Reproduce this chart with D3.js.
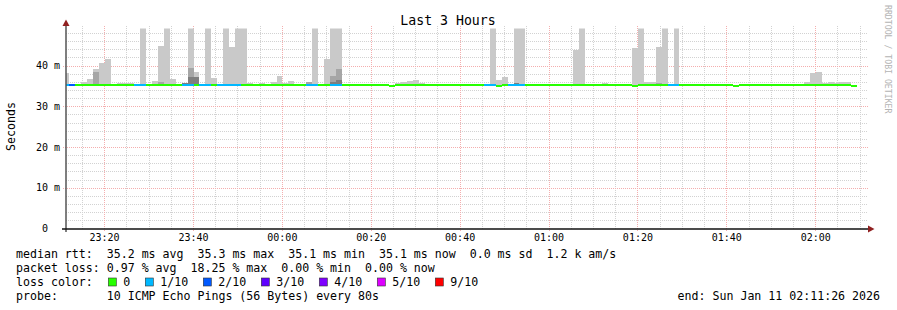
<!DOCTYPE html>
<html lang="en">
<head>
<meta charset="UTF-8">
<script src="https://d3js.org/d3.v7.min.js"></script>
<title>Last 3 Hours</title>
<style>
    body { margin: 0; background: #fff; }
    text { font-family: "DejaVu Sans Mono", monospace; }
</style>
</head>
<body>
<div id="chart"></div>
<script>
    /*------------------- data ---------------------------------------*/
    const startTime = new Date(2026, 0, 10, 23, 11, 26);
    const endTime = new Date(2026, 0, 11, 2, 11, 26);
    const firstStep = new Date(2026, 0, 10, 23, 10, 48);   // rrd step boundary
    const stepSeconds = 80;

    // median rtt per step (ms)
    const median = [
        35.2, 35.2, 35.2, 35.2, 35.2, 35.2, 35.2, 35.2, 35.2, 35.2,
        35.2, 35.2, 35.2, 35.2, 35.2, 35.2, 35.2, 35.2, 35.2, 35.2,
        35.2, 35.2, 35.2, 35.2, 35.2, 35.2, 35.2, 35.2, 35.2, 35.2,
        35.2, 35.2, 35.2, 35.2, 35.2, 35.2, 35.2, 35.2, 35.2, 35.2,
        35.2, 35.2, 35.2, 35.2, 35.2, 35.2, 35.2, 35.2, 35.2, 35.2,
        35.2, 35.2, 35.2, 35.2, 35.2, 34.95, 35.2, 35.2, 35.2, 35.2,
        35.2, 35.2, 35.2, 35.2, 35.2, 35.2, 35.2, 35.2, 35.2, 35.2,
        35.2, 35.2, 35.2, 34.95, 35.2, 35.2, 35.2, 35.2, 35.2, 35.2,
        35.2, 35.2, 35.2, 35.2, 35.2, 35.2, 35.2, 35.2, 35.2, 35.2,
        35.2, 35.2, 35.2, 35.2, 35.2, 35.2, 34.95, 35.2, 35.2, 35.2,
        35.2, 35.2, 35.2, 35.2, 35.2, 35.2, 35.2, 35.2, 35.2, 35.2,
        35.2, 35.2, 35.2, 34.95, 35.2, 35.2, 35.2, 35.2, 35.2, 35.2,
        35.2, 35.2, 35.2, 35.2, 35.2, 35.2, 35.2, 35.2, 35.2, 35.2,
        35.2, 35.2, 35.2, 34.95
    ];

    // lost pings (out of 10) per step
    const lossCount = [
        1, 2, 0, 0, 0, 0, 0, 0, 0, 0,
        0, 0, 1, 1, 0, 0, 0, 0, 0, 0,
        1, 1, 0, 1, 1, 0, 1, 1, 1, 1,
        0, 0, 0, 0, 0, 0, 0, 0, 0, 0,
        0, 1, 1, 0, 0, 1, 1, 0, 0, 0,
        0, 0, 0, 0, 0, 0, 0, 0, 0, 0,
        0, 0, 0, 0, 0, 0, 0, 0, 0, 0,
        0, 1, 1, 0, 0, 1, 1, 1, 0, 0,
        0, 0, 0, 0, 0, 0, 0, 0, 0, 0,
        0, 0, 0, 0, 0, 0, 0, 0, 0, 0,
        0, 0, 1, 1, 0, 0, 0, 0, 0, 0,
        0, 0, 0, 0, 0, 0, 0, 0, 0, 0,
        0, 0, 0, 0, 0, 0, 0, 0, 0, 0,
        0, 0, 0, 0
    ];

    // smoke: steps with visible spread, and the slowest ping of each (ms)
    const smokeStep = [0, 3, 4, 5, 6, 7, 9, 10, 11, 13, 15, 16, 17, 18, 20, 21, 22, 24, 25, 27,
        28, 29, 30, 31, 33, 35, 36, 37, 38, 41, 42, 44, 45, 46, 56, 57, 58, 59, 60, 72,
        73, 74, 76, 77, 86, 87, 91, 96, 97, 98, 99, 100, 101, 103, 125, 126, 127, 128, 129, 130,
        131, 132];
    const smokeMax = [38.1, 36.0, 36.7, 39.1, 40.7, 41.6, 35.8, 35.8, 35.8, 55, 36.2, 44.8, 55, 36.7, 35.8, 55, 38.5, 55, 36.9, 55,
        44.5, 55, 55, 35.8, 35.8, 36.0, 37.4, 35.7, 36.2, 35.9, 55, 41.6, 55, 55, 35.7, 36.0, 36.2, 36.4, 35.7, 55,
        36.4, 37.2, 55, 55, 43.8, 55, 35.8, 44.3, 55, 36.0, 36.0, 44.5, 55, 55, 36.0, 38.2, 38.4, 35.7, 36.0, 35.7,
        36.0, 36.0];
    const smokeMin = 35.0;

    // darker smoke bands (more pings packed together)
    const midStep = [5, 16, 21, 41, 45, 46, 100];
    const midValue = [38.5, 36.0, 39.4, 35.9, 37.4, 39.1, 35.7];
    const innerStep = [20, 21, 22, 45, 46, 76];
    const innerValue = [35.8, 37.3, 37.2, 36.0, 36.4, 35.8];

    const yTicks = [0, 10, 20, 30, 40];
    const yMax = 49.1;

    const lossLabels = ["0", "1/10", "2/10", "3/10", "4/10", "5/10", "9/10"];
    const lossColors = ["#26ff00", "#00b8ff", "#0059ff", "#5e00ff", "#7e00ff", "#dd00ff", "#ff0000"];

    const statLines = [
        "median rtt:  35.2 ms avg  35.3 ms max  35.1 ms min  35.1 ms now  0.0 ms sd  1.2 k am/s",
        "packet loss: 0.97 % avg  18.25 % max  0.00 % min  0.00 % now",
        "loss color:",
        "probe:       10 ICMP Echo Pings (56 Bytes) every 80s"
    ];
    const endLabel = "end: Sun Jan 11 02:11:26 2026";

    /*------------------- layout --------------------*/
    const width = 897, height = 310;
    const plot = { left: 66, right: 866, top: 28.5, bottom: 228.5 };

    const svg = d3.select("#chart").append("svg")
        .attr("width", width)
        .attr("height", height);

    const x = d3.scaleTime().domain([startTime, endTime]).range([plot.left, plot.right]);
    const y = d3.scaleLinear().domain([0, yMax]).range([plot.bottom, plot.top]);

    const stepStart = i => new Date(firstStep.getTime() + i * stepSeconds * 1000);
    const lossColor = n => lossColors[n >= 9 ? 6 : Math.min(n, 5)];

    // grid
    const grid = svg.append("g").attr("shape-rendering", "crispEdges");
    const minutes = x.ticks(d3.timeMinute.every(5));
    grid.selectAll(".vminor")
        .data(minutes.filter(d => d.getMinutes() % 20 !== 0))
        .enter().append("line")
        .attr("x1", d => Math.round(x(d)) + 0.5).attr("x2", d => Math.round(x(d)) + 0.5)
        .attr("y1", 26).attr("y2", plot.bottom)
        .attr("stroke", "#d2d2d2").attr("stroke-dasharray", "1,1");
    grid.selectAll(".hminor")
        .data(y.ticks(25).filter(v => v % 10 !== 0))
        .enter().append("line")
        .attr("x1", plot.left).attr("x2", 868)
        .attr("y1", d => Math.round(y(d)) + 0.5).attr("y2", d => Math.round(y(d)) + 0.5)
        .attr("stroke", "#d2d2d2").attr("stroke-dasharray", "1,1");
    grid.selectAll(".vmajor")
        .data(minutes.filter(d => d.getMinutes() % 20 === 0))
        .enter().append("line")
        .attr("x1", d => Math.round(x(d)) + 0.5).attr("x2", d => Math.round(x(d)) + 0.5)
        .attr("y1", 26).attr("y2", 232)
        .attr("stroke", "#f4aeae").attr("stroke-dasharray", "1,1");
    grid.selectAll(".hmajor")
        .data(yTicks.filter(v => v > 0))
        .enter().append("line")
        .attr("x1", 63).attr("x2", 868)
        .attr("y1", d => Math.round(y(d)) + 0.5).attr("y2", d => Math.round(y(d)) + 0.5)
        .attr("stroke", "#f4aeae").attr("stroke-dasharray", "1,1");

    // clip to the canvas
    svg.append("clipPath").attr("id", "clip")
        .append("rect")
        .attr("x", plot.left).attr("y", plot.top)
        .attr("width", plot.right - plot.left).attr("height", plot.bottom - plot.top);

    const marks = svg.append("g").attr("clip-path", "url(#clip)").attr("shape-rendering", "crispEdges");

    function band(steps, values, color) {
        marks.append("g").selectAll("rect")
            .data(steps.map((s, k) => ({ s, v: values[k] })))
            .enter().append("rect")
            .attr("x", d => Math.round(x(stepStart(d.s))))
            .attr("width", d => Math.round(x(stepStart(d.s + 1))) - Math.round(x(stepStart(d.s))))
            .attr("y", d => y(d.v))
            .attr("height", d => y(smokeMin) - y(d.v))
            .attr("fill", color);
    }
    band(smokeStep, smokeMax, "#c9c9c9");
    band(midStep, midValue, "#a6a6a6");
    band(innerStep, innerValue, "#7f7f7f");

    // median line coloured by loss
    marks.append("g").selectAll("rect")
        .data(median)
        .enter().append("rect")
        .attr("x", (d, i) => Math.round(x(stepStart(i))))
        .attr("width", (d, i) => Math.round(x(stepStart(i + 1))) - Math.round(x(stepStart(i))))
        .attr("y", d => Math.round(y(d)) - 1)
        .attr("height", 2)
        .attr("fill", (d, i) => lossColor(lossCount[i]));

    // axes
    svg.append("line")
        .attr("x1", 66).attr("x2", 66).attr("y1", 23).attr("y2", 232)
        .attr("stroke", "#555").attr("stroke-width", 1.5);
    svg.append("line")
        .attr("x1", 62).attr("x2", 870).attr("y1", 229).attr("y2", 229)
        .attr("stroke", "#111").attr("stroke-width", 1.5);
    svg.append("path")
        .attr("d", "M66,19.5 L69.5,26 L62.5,26 Z")
        .attr("fill", "#902020");
    svg.append("path")
        .attr("d", "M874.5,229 L868,225.5 L868,232.5 Z")
        .attr("fill", "#902020");

    const xAxis = svg.append("g")
        .attr("transform", `translate(0,${plot.bottom})`)
        .call(d3.axisBottom(x)
            .ticks(d3.timeMinute.every(20))
            .tickFormat(d3.timeFormat("%H:%M"))
            .tickSize(0).tickPadding(5));
    xAxis.select(".domain").remove();
    xAxis.selectAll("text")
        .attr("font-family", "DejaVu Sans Mono").attr("font-size", 10).attr("fill", "#000");

    const yAxis = svg.append("g")
        .attr("transform", `translate(${plot.left},0)`)
        .call(d3.axisLeft(y)
            .tickValues(yTicks)
            .tickFormat(v => v === 0 ? "0  " : v + " m")
            .tickSize(0).tickPadding(6));
    yAxis.select(".domain").remove();
    yAxis.selectAll("text")
        .attr("font-family", "DejaVu Sans Mono").attr("font-size", 10).attr("fill", "#000")
        .style("white-space", "pre");

    // titles
    svg.append("text")
        .attr("x", 448).attr("y", 25)
        .attr("text-anchor", "middle")
        .attr("font-size", 13.2)
        .text("Last 3 Hours");

    svg.append("text")
        .attr("transform", "translate(15,126.5) rotate(-90)")
        .attr("text-anchor", "middle")
        .attr("font-size", 11.6)
        .text("Seconds");

    svg.append("text")
        .attr("transform", "translate(885,5) rotate(90)")
        .attr("font-size", 8.2)
        .attr("fill", "#b4b4b4")
        .text("RRDTOOL / TOBI OETIKER");

    // legend
    const legend = svg.append("g").attr("font-size", 11.6);
    legend.selectAll("text.stat")
        .data(statLines)
        .enter().append("text")
        .attr("class", "stat")
        .attr("x", 16)
        .attr("y", (d, i) => 258 + i * 14)
        .style("white-space", "pre")
        .text(d => d);

    legend.append("text")
        .attr("x", 880).attr("y", 300)
        .attr("text-anchor", "end")
        .text(endLabel);

    let sx = 108.3;
    lossLabels.forEach((label, k) => {
        legend.append("rect")
            .attr("x", sx).attr("y", 278)
            .attr("width", 8).attr("height", 8)
            .attr("fill", lossColors[k])
            .attr("stroke", "#333").attr("stroke-width", 0.6);
        legend.append("text")
            .attr("x", sx + 15).attr("y", 286)
            .text(label);
        sx += 15 + label.length * 7 + 15;
    });
</script>
</body>
</html>
